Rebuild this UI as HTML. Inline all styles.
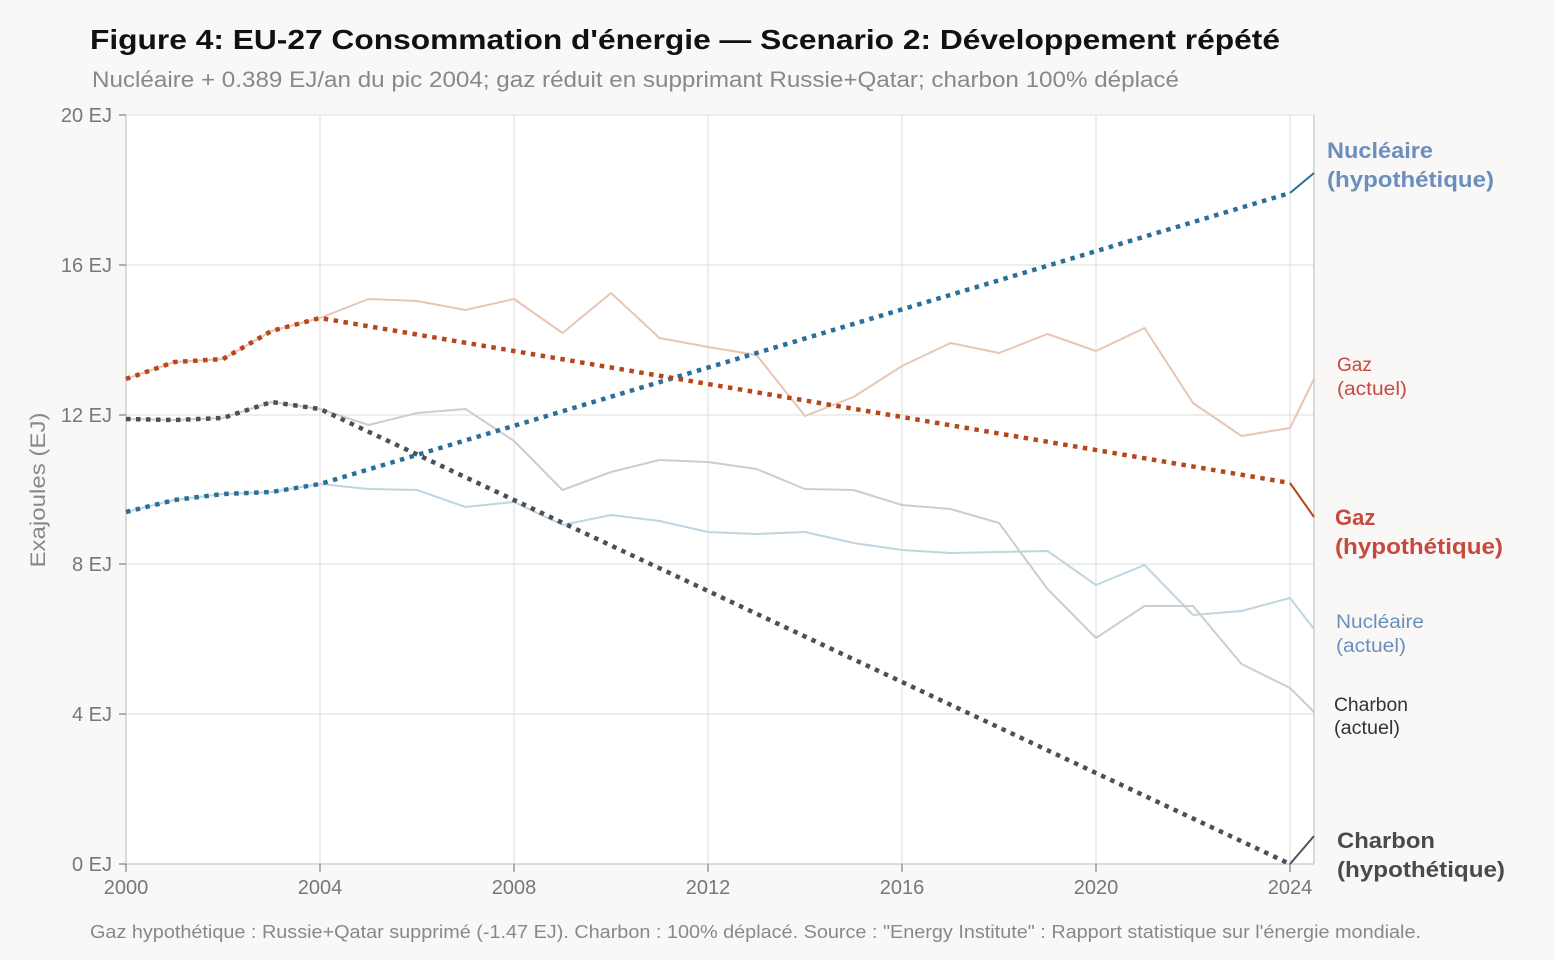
<!DOCTYPE html><html><head><meta charset="utf-8"><style>body{margin:0;background:#f9f8f6;}svg{display:block;font-family:"Liberation Sans",sans-serif;}</style></head><body>
<svg width="1555" height="960" viewBox="0 0 1555 960">
<rect width="1555" height="960" fill="#f9f8f6"/>
<rect x="126" y="115" width="1188" height="749" fill="#fff"/>
<g stroke="#dedede" stroke-width="1">
<line x1="126" x2="1314" y1="115" y2="115"/><line x1="126" x2="1314" y1="265" y2="265"/><line x1="126" x2="1314" y1="415" y2="415"/><line x1="126" x2="1314" y1="564" y2="564"/><line x1="126" x2="1314" y1="714" y2="714"/>
<line x1="320" x2="320" y1="115" y2="864"/><line x1="514" x2="514" y1="115" y2="864"/><line x1="708" x2="708" y1="115" y2="864"/><line x1="902" x2="902" y1="115" y2="864"/><line x1="1096" x2="1096" y1="115" y2="864"/><line x1="1290" x2="1290" y1="115" y2="864"/>
</g>
<g stroke="#cfcfcf" stroke-width="1.5" fill="none"><line x1="126" y1="115" x2="126" y2="864"/><line x1="126" y1="864" x2="1314" y2="864"/><line x1="1314" y1="115" x2="1314" y2="864"/></g>
<g stroke="#999" stroke-width="1.5">
<line x1="119" x2="126" y1="115" y2="115"/><line x1="119" x2="126" y1="265" y2="265"/><line x1="119" x2="126" y1="415" y2="415"/><line x1="119" x2="126" y1="564" y2="564"/><line x1="119" x2="126" y1="714" y2="714"/><line x1="119" x2="126" y1="864" y2="864"/>
<line x1="126" x2="126" y1="864" y2="872"/><line x1="320" x2="320" y1="864" y2="872"/><line x1="514" x2="514" y1="864" y2="872"/><line x1="708" x2="708" y1="864" y2="872"/><line x1="902" x2="902" y1="864" y2="872"/><line x1="1096" x2="1096" y1="864" y2="872"/><line x1="1290" x2="1290" y1="864" y2="872"/>
</g>
<g fill="#777" font-size="20" text-anchor="end">
<text x="112" y="122">20 EJ</text><text x="112" y="272">16 EJ</text><text x="112" y="422">12 EJ</text><text x="112" y="571">8 EJ</text><text x="112" y="721">4 EJ</text><text x="112" y="871">0 EJ</text>
</g>
<g fill="#777" font-size="20" text-anchor="middle">
<text x="126" y="894">2000</text><text x="320" y="894">2004</text><text x="514" y="894">2008</text><text x="708" y="894">2012</text><text x="902" y="894">2016</text><text x="1096" y="894">2020</text><text x="1290" y="894">2024</text>
</g>
<text transform="translate(45,490) rotate(-90)" fill="#888" font-size="21" text-anchor="middle" textLength="155" lengthAdjust="spacingAndGlyphs">Exajoules (EJ)</text>
<g fill="none" stroke-width="2" stroke-linejoin="round">
<polyline stroke="#e8c5b5" points="126,379 174.5,362 223,359 271.5,331 320,318 368.5,299 417,301 465.5,310 514,299 562.5,333 611,293 659.5,338 708,347 756.5,355 805,416 853.5,397 902,366 950.5,343 999,353 1047.5,334 1096,351 1144.5,328 1193,403 1241.5,436 1290,428 1314,379"/>
<polyline stroke="#c0d5df" points="126,512 174.5,500 223,494 271.5,492 320,484 368.5,489 417,490 465.5,507 514,502 562.5,525 611,515 659.5,521 708,532 756.5,534 805,532 853.5,543 902,550 950.5,553 999,552 1047.5,551 1096,585 1144.5,565 1193,615 1241.5,611 1290,598 1314,629"/>
<polyline stroke="#cdcdcd" points="126,419 174.5,420 223,418 271.5,402 320,409 368.5,425 417,413 465.5,409 514,441 562.5,490 611,472 659.5,460 708,462 756.5,469 805,489 853.5,490 902,505 950.5,509 999,523 1047.5,589 1096,638 1144.5,606 1193,606 1241.5,664 1290,688 1314,712"/>
</g>
<g fill="none" stroke-width="4.5" stroke-dasharray="4.5 5.5">
<polyline stroke="#2a6f97" points="126,512 174.5,500 223,494 271.5,492 320,484 1290,193"/>
<polyline stroke="#b5471b" points="126,379 174.5,362 223,359 271.5,331 320,318 1290,483"/>
<polyline stroke="#4a4f5a" points="126,419 174.5,420 223,418 271.5,402 320,409 1290,864"/>
</g>
<g stroke-width="2">
<line x1="1290" y1="193" x2="1314" y2="173" stroke="#2a6f97"/>
<line x1="1290" y1="483" x2="1314" y2="517" stroke="#b5471b"/>
<line x1="1290" y1="864" x2="1314" y2="836" stroke="#4a5566"/>
</g>
<g font-size="22" font-weight="bold">
<text x="1327" y="158" fill="#6a8fbf" textLength="106" lengthAdjust="spacingAndGlyphs">Nucléaire</text><text x="1327" y="187" fill="#6a8fbf" textLength="167" lengthAdjust="spacingAndGlyphs">(hypothétique)</text>
<text x="1335" y="525" fill="#c8483f">Gaz</text><text x="1335" y="554" fill="#c8483f" textLength="168" lengthAdjust="spacingAndGlyphs">(hypothétique)</text>
<text x="1337" y="848" fill="#4a4a4a" textLength="98" lengthAdjust="spacingAndGlyphs">Charbon</text><text x="1337" y="877" fill="#4a4a4a" textLength="168" lengthAdjust="spacingAndGlyphs">(hypothétique)</text>
</g>
<g font-size="19">
<text x="1337" y="371" fill="#c8483f">Gaz</text><text x="1337" y="395" fill="#c8483f" textLength="70" lengthAdjust="spacingAndGlyphs">(actuel)</text>
<text x="1336" y="628" fill="#6a8fbf" textLength="88" lengthAdjust="spacingAndGlyphs">Nucléaire</text><text x="1336" y="652" fill="#6a8fbf" textLength="70" lengthAdjust="spacingAndGlyphs">(actuel)</text>
<text x="1334" y="711" fill="#333" textLength="74" lengthAdjust="spacingAndGlyphs">Charbon</text><text x="1334" y="734" fill="#333" textLength="66" lengthAdjust="spacingAndGlyphs">(actuel)</text>
</g>
<text x="90" y="49" font-size="28" font-weight="bold" fill="#111" textLength="1190" lengthAdjust="spacingAndGlyphs">Figure 4: EU-27 Consommation d'énergie — Scenario 2: Développement répété</text>
<text x="92" y="87" font-size="22" fill="#888" textLength="1087" lengthAdjust="spacingAndGlyphs">Nucléaire + 0.389 EJ/an du pic 2004; gaz réduit en supprimant Russie+Qatar; charbon 100% déplacé</text>
<text x="90" y="938" font-size="18" fill="#888" textLength="1331" lengthAdjust="spacingAndGlyphs">Gaz hypothétique : Russie+Qatar supprimé (-1.47 EJ). Charbon : 100% déplacé. Source : "Energy Institute" : Rapport statistique sur l'énergie mondiale.</text>
</svg></body></html>
